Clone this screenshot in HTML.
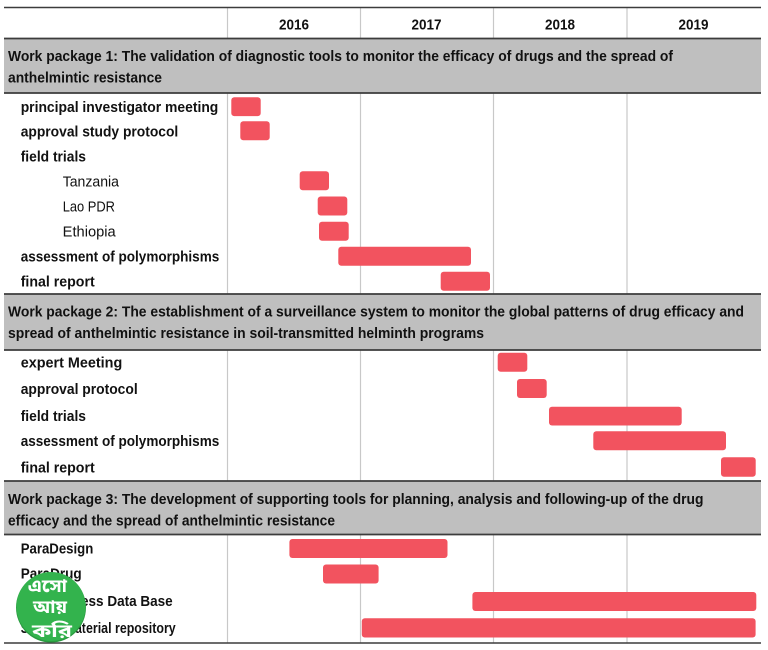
<!DOCTYPE html>
<html>
<head>
<meta charset="utf-8">
<style>
html,body{margin:0;padding:0;background:#fff;}
svg{display:block;}
.b{font-family:"Liberation Sans",sans-serif;font-weight:bold;font-size:14.5px;fill:#111;}
.r{font-family:"Liberation Sans",sans-serif;font-weight:normal;font-size:14.5px;fill:#111;}
.bar{fill:#f2535f;}
.bn{font-family:"Noto Sans Bengali","Lohit Bengali","FreeSans","Liberation Sans",sans-serif;font-weight:bold;font-size:18.5px;fill:#fff;}
</style>
</head>
<body>
<svg width="768" height="650" viewBox="0 0 768 650" xmlns="http://www.w3.org/2000/svg">
  <!-- grey bands -->
  <rect x="4" y="38.5" width="757" height="54.5" fill="#bfbfbf"/>
  <rect x="4" y="294" width="757" height="56" fill="#bfbfbf"/>
  <rect x="4" y="481" width="757" height="53.5" fill="#bfbfbf"/>

  <!-- vertical grid lines -->
  <g stroke="#c8c8c8" stroke-width="1.2">
    <line x1="227.5" y1="8" x2="227.5" y2="38"/>
    <line x1="360.5" y1="8" x2="360.5" y2="38"/>
    <line x1="493.5" y1="8" x2="493.5" y2="38"/>
    <line x1="627" y1="8" x2="627" y2="38"/>

    <line x1="227.5" y1="93" x2="227.5" y2="294"/>
    <line x1="360.5" y1="93" x2="360.5" y2="294"/>
    <line x1="493.5" y1="93" x2="493.5" y2="294"/>
    <line x1="627" y1="93" x2="627" y2="294"/>

    <line x1="227.5" y1="350" x2="227.5" y2="481"/>
    <line x1="360.5" y1="350" x2="360.5" y2="481"/>
    <line x1="493.5" y1="350" x2="493.5" y2="481"/>
    <line x1="627" y1="350" x2="627" y2="481"/>

    <line x1="227.5" y1="534.5" x2="227.5" y2="643"/>
    <line x1="360.5" y1="534.5" x2="360.5" y2="643"/>
    <line x1="493.5" y1="534.5" x2="493.5" y2="643"/>
    <line x1="627" y1="534.5" x2="627" y2="643"/>
  </g>

  <!-- horizontal rules -->
  <g stroke="#3c3c3c">
    <line x1="4" y1="7.5" x2="761" y2="7.5" stroke-width="1.5"/>
    <line x1="4" y1="38.5" x2="761" y2="38.5" stroke-width="1.8"/>
    <line x1="4" y1="93" x2="761" y2="93" stroke-width="1.8"/>
    <line x1="4" y1="294" x2="761" y2="294" stroke-width="1.8"/>
    <line x1="4" y1="350" x2="761" y2="350" stroke-width="1.8"/>
    <line x1="4" y1="481" x2="761" y2="481" stroke-width="1.8"/>
    <line x1="4" y1="534.5" x2="761" y2="534.5" stroke-width="1.8"/>
    <line x1="4" y1="643" x2="761" y2="643" stroke-width="1.5"/>
  </g>

  <!-- year headers -->
  <text class="b" x="279" y="29.5" textLength="30" lengthAdjust="spacingAndGlyphs">2016</text>
  <text class="b" x="411.5" y="29.5" textLength="30" lengthAdjust="spacingAndGlyphs">2017</text>
  <text class="b" x="545" y="29.5" textLength="30" lengthAdjust="spacingAndGlyphs">2018</text>
  <text class="b" x="678.5" y="29.5" textLength="30" lengthAdjust="spacingAndGlyphs">2019</text>

  <!-- WP1 header -->
  <text class="b" x="8" y="61" textLength="665" lengthAdjust="spacingAndGlyphs">Work package 1: The validation of diagnostic tools to monitor the efficacy of drugs and the spread of</text>
  <text class="b" x="8" y="82.5" textLength="154" lengthAdjust="spacingAndGlyphs">anthelmintic resistance</text>

  <!-- WP1 rows -->
  <text class="b" x="20.7" y="112" textLength="197.6" lengthAdjust="spacingAndGlyphs">principal investigator meeting</text>
  <text class="b" x="20.7" y="136.5" textLength="157.6" lengthAdjust="spacingAndGlyphs">approval study protocol</text>
  <text class="b" x="20.7" y="161.5" textLength="65.3" lengthAdjust="spacingAndGlyphs">field trials</text>
  <text class="r" x="62.7" y="186.5" textLength="56.3" lengthAdjust="spacingAndGlyphs">Tanzania</text>
  <text class="r" x="62.7" y="211.5" textLength="52.3" lengthAdjust="spacingAndGlyphs">Lao PDR</text>
  <text class="r" x="62.7" y="236.5" textLength="53" lengthAdjust="spacingAndGlyphs">Ethiopia</text>
  <text class="b" x="20.7" y="261.5" textLength="198.6" lengthAdjust="spacingAndGlyphs">assessment of polymorphisms</text>
  <text class="b" x="20.7" y="286.5" textLength="74" lengthAdjust="spacingAndGlyphs">final report</text>

  <rect class="bar" x="231.3" y="97.3" width="29.4" height="18.8" rx="3"/>
  <rect class="bar" x="240.3" y="121.3" width="29.4" height="19" rx="3"/>
  <rect class="bar" x="299.7" y="171.3" width="29.3" height="19" rx="3"/>
  <rect class="bar" x="317.7" y="196.5" width="29.6" height="19" rx="3"/>
  <rect class="bar" x="319" y="221.7" width="29.7" height="19" rx="3"/>
  <rect class="bar" x="338.3" y="246.7" width="132.7" height="19" rx="3"/>
  <rect class="bar" x="440.7" y="271.7" width="49.3" height="19" rx="3"/>

  <!-- WP2 header -->
  <text class="b" x="8" y="316.5" textLength="736" lengthAdjust="spacingAndGlyphs">Work package 2: The establishment of a surveillance system to monitor the global patterns of drug efficacy and</text>
  <text class="b" x="8" y="338" textLength="476" lengthAdjust="spacingAndGlyphs">spread of anthelmintic resistance in soil-transmitted helminth programs</text>

  <!-- WP2 rows -->
  <text class="b" x="20.7" y="367.5" textLength="101.6" lengthAdjust="spacingAndGlyphs">expert Meeting</text>
  <text class="b" x="20.7" y="394" textLength="117" lengthAdjust="spacingAndGlyphs">approval protocol</text>
  <text class="b" x="20.7" y="421" textLength="65.3" lengthAdjust="spacingAndGlyphs">field trials</text>
  <text class="b" x="20.7" y="446" textLength="198.6" lengthAdjust="spacingAndGlyphs">assessment of polymorphisms</text>
  <text class="b" x="20.7" y="472.5" textLength="74" lengthAdjust="spacingAndGlyphs">final report</text>

  <rect class="bar" x="497.7" y="352.7" width="29.6" height="19" rx="3"/>
  <rect class="bar" x="517" y="379" width="29.7" height="19" rx="3"/>
  <rect class="bar" x="549" y="406.7" width="132.7" height="18.8" rx="3"/>
  <rect class="bar" x="593.3" y="431.3" width="132.7" height="19" rx="3"/>
  <rect class="bar" x="721" y="457.3" width="34.7" height="19.5" rx="3"/>

  <!-- WP3 header -->
  <text class="b" x="8" y="504" textLength="695.5" lengthAdjust="spacingAndGlyphs">Work package 3: The development of supporting tools for planning, analysis and following-up of the drug</text>
  <text class="b" x="8" y="525.5" textLength="327" lengthAdjust="spacingAndGlyphs">efficacy and the spread of anthelmintic resistance</text>

  <!-- WP3 rows -->
  <text class="b" x="20.7" y="553.5" textLength="72.6" lengthAdjust="spacingAndGlyphs">ParaDesign</text>
  <text class="b" x="20.7" y="578.5" textLength="61" lengthAdjust="spacingAndGlyphs">ParaDrug</text>
  <text class="b" x="20.7" y="606" textLength="60" lengthAdjust="spacingAndGlyphs">Sample Acc</text>
  <text class="b" x="81" y="606" textLength="91.7" lengthAdjust="spacingAndGlyphs">ess Data Base</text>
  <text class="b" x="20.7" y="633" textLength="65" lengthAdjust="spacingAndGlyphs">Sample mat</text>
  <text class="b" x="86" y="633" textLength="89.7" lengthAdjust="spacingAndGlyphs">erial repository</text>

  <rect class="bar" x="289.4" y="539" width="158.1" height="19" rx="3"/>
  <rect class="bar" x="323" y="564.5" width="55.6" height="19" rx="3"/>
  <rect class="bar" x="472.4" y="592" width="283.9" height="19" rx="3"/>
  <rect class="bar" x="361.8" y="618.3" width="393.8" height="19.2" rx="3"/>

  <!-- logo -->
  <circle cx="51" cy="607.5" r="35" fill="#2a9a40"/>
  <circle cx="51" cy="606.5" r="34.5" fill="#33b34d"/>
  <text class="bn" x="28" y="592" textLength="39" lengthAdjust="spacingAndGlyphs">এসো</text>
  <text class="bn" x="33" y="613" textLength="34" lengthAdjust="spacingAndGlyphs">আয়</text>
  <text class="bn" x="32" y="637" textLength="40" lengthAdjust="spacingAndGlyphs">করি</text>
</svg>
</body>
</html>
